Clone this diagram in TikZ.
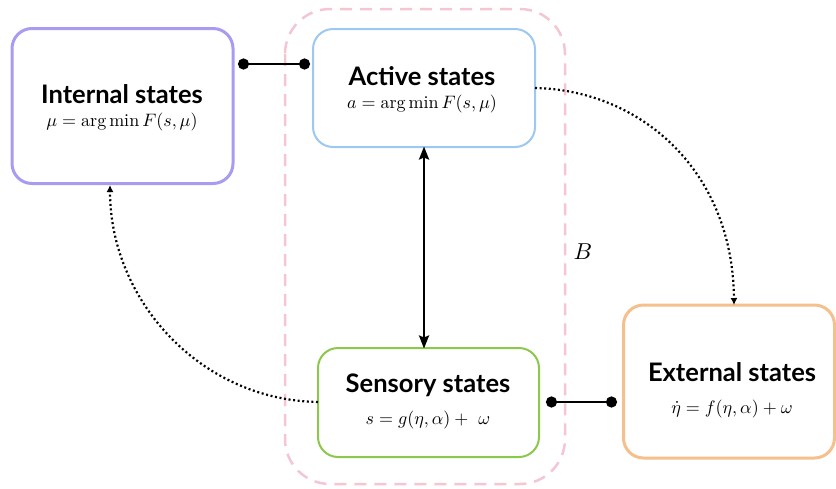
\documentclass[tikz,border=0pt]{standalone}
\usepackage{graphicx}
\usepackage{fontspec}
\setsansfont{Lato}
\usetikzlibrary{arrows.meta}
\definecolor{internalc}{HTML}{A99CF0}
\definecolor{activec}{HTML}{9CC8F2}
\definecolor{sensoryc}{HTML}{8CC84B}
\definecolor{externalc}{HTML}{F5C08C}
\definecolor{blanketc}{HTML}{F4C6D2}
\newcommand{\eqtext}[1]{\scalebox{1.8}{$#1$}}
\tikzset{
  statebox/.style={draw, rounded corners=20pt, fill=white, align=center, inner sep=0pt},
  title/.style={font=\sffamily\bfseries\fontsize{25.5}{28}\selectfont, inner sep=1pt},
  eqn/.style={inner sep=1pt},
  coupling/.style={line width=2.8pt, {Circle[length=11pt]}-{Circle[length=11pt]}},
  influence/.style={line width=2.2pt, dash pattern=on 2pt off 2.6pt, -{Latex[length=7pt,width=7pt]}},
  exchange/.style={line width=2.5pt, {Stealth[length=13pt,width=10pt,inset=2pt]}-{Stealth[length=13pt,width=10pt,inset=2pt]}},
}
\begin{document}
\begin{tikzpicture}[x=1pt,y=-1pt]
\useasboundingbox (0,0) rectangle (836,488);

% Markov blanket
\draw[blanketc, line width=2.5pt, dash pattern=on 12pt off 8pt, rounded corners=45pt]
  (285,9) rectangle (565,484);
\node (blabel) at (583,252) {\scalebox{2.3}{$B$}};

% State boxes
\node[statebox, draw=internalc, line width=3pt, minimum width=221pt, minimum height=155pt] (internal) at (122.5,106) {};
\node[statebox, draw=activec, line width=2pt, minimum width=222pt, minimum height=118pt] (active) at (424,88) {};
\node[statebox, draw=sensoryc, line width=2pt, minimum width=221pt, minimum height=109pt] (sensory) at (428.5,402.5) {};
\node[statebox, draw=externalc, line width=3pt, minimum width=211pt, minimum height=153pt] (external) at (729,381.5) {};

% Labels
\node[title] (internalT) at (122,94) {Internal states};
\node[eqn] (internalE) at (122,122) {\eqtext{\mu = \arg\min F(s,\mu)}};
\node[title] (activeT) at (422,76) {Active states};
\node[eqn] (activeE) at (422,104) {\eqtext{a = \arg\min F(s,\mu)}};
\node[title] (sensoryT) at (428,385) {Sensory states};
\node[eqn] (sensoryE) at (428,420) {\eqtext{s = g(\eta,\alpha) +\ \omega}};
\node[title] (externalT) at (732,372) {External states};
\node[eqn] (externalE) at (732,409) {\eqtext{\dot{\eta} = f(\eta,\alpha) + \omega}};

% Couplings
\coordinate (ia1) at (238,64);
\coordinate (ia2) at (310,64);
\draw[coupling] (ia1) -- (ia2);
\coordinate (se1) at (546,402);
\coordinate (se2) at (617,402);
\draw[coupling] (se1) -- (se2);

% Active <-> sensory
\draw[exchange] ([yshift=1.5pt]active.south) -- ([yshift=-1.5pt]sensory.north -| active.south);

% Dotted influences
\coordinate (aout) at (535,88);
\coordinate (ein) at (734,305);
\draw[influence] (aout) .. controls (640,90) and (733,170) .. (ein);
\coordinate (sout) at (318,402);
\coordinate (iin) at (110,185);
\draw[influence] (sout) .. controls (200,400) and (110,300) .. (iin);
\end{tikzpicture}
\end{document}
